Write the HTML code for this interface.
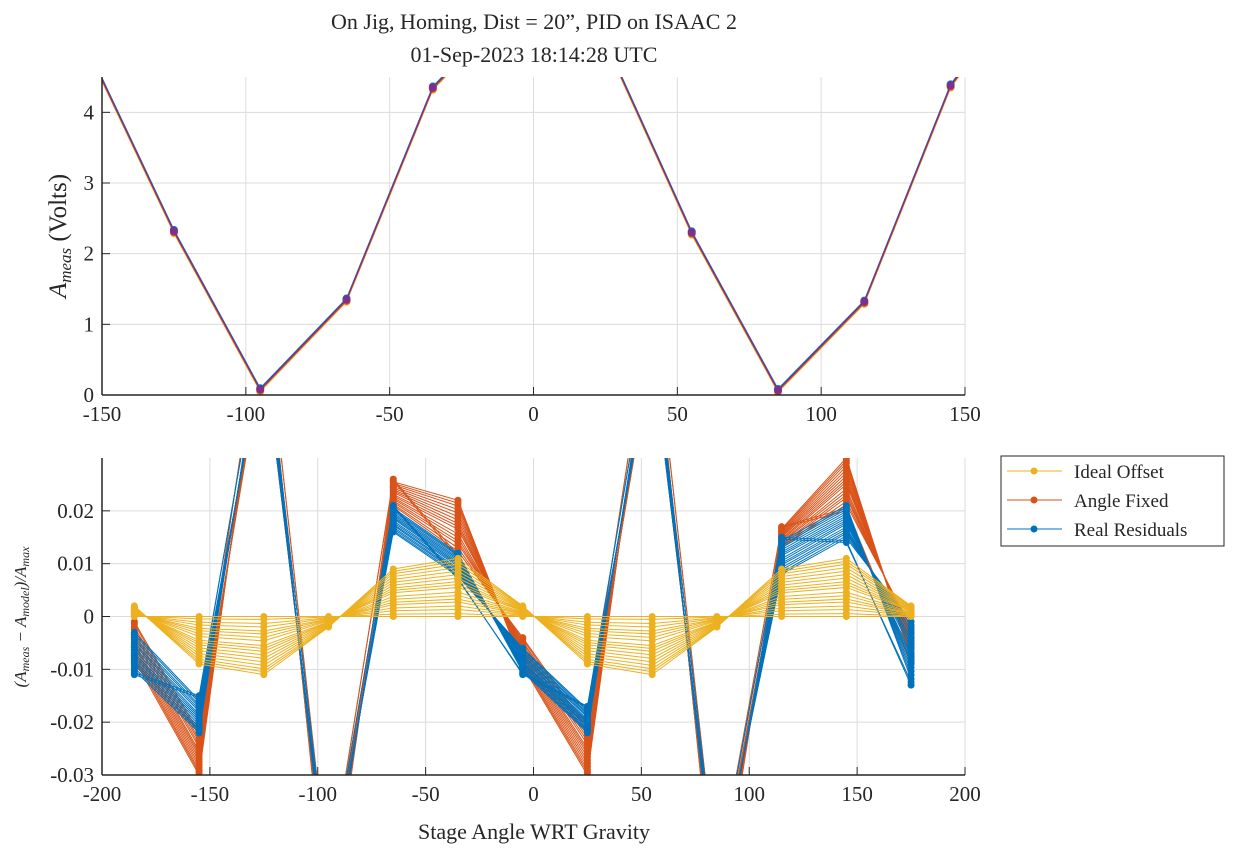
<!DOCTYPE html>
<html><head><meta charset="utf-8"><style>
html,body{margin:0;padding:0;background:#fff;overflow:hidden;width:1250px;height:859px;}
svg{display:block;}
svg text{font-family:"Liberation Serif",serif;fill:#262626;}
</style></head><body>
<svg width="1250" height="859" viewBox="0 0 1250 859" xmlns="http://www.w3.org/2000/svg">
<defs>
<clipPath id="c1"><rect x="102" y="77" width="863" height="318"/></clipPath>
<clipPath id="c2"><rect x="102" y="458" width="863" height="317"/></clipPath>
</defs>
<g id="topAx"></g>
<g id="botAx"></g>
<text x="534" y="29" font-size="22" text-anchor="middle">On Jig, Homing, Dist = 20”, PID on ISAAC 2</text>
<text x="534" y="62" font-size="22" text-anchor="middle">01-Sep-2023 18:14:28 UTC</text>
<text transform="translate(66,236) rotate(-90)" font-size="25" text-anchor="middle"><tspan font-style="italic">A</tspan><tspan font-style="italic" font-size="17" dy="5">meas</tspan><tspan dy="-5"> (Volts)</tspan></text>
<text transform="translate(26,617) rotate(-90)" font-size="17" text-anchor="middle" font-style="italic">(A<tspan font-size="12" dy="3">meas</tspan><tspan dy="-3"> − A</tspan><tspan font-size="12" dy="3">model</tspan><tspan dy="-3">)/A</tspan><tspan font-size="12" dy="3">max</tspan></text>
<text x="534" y="839" font-size="22" text-anchor="middle">Stage Angle WRT Gravity</text>
<g>
<rect x="1001" y="456" width="223" height="90" fill="#fff" stroke="#262626" stroke-width="1"/>
<g><line x1="1007" y1="471" x2="1062" y2="471" stroke="#EDB120" stroke-width="1"/><circle cx="1034" cy="471" r="3.5" fill="#EDB120"/><text x="1074" y="478" font-size="19">Ideal Offset</text></g>
<g><line x1="1007" y1="500" x2="1062" y2="500" stroke="#D95319" stroke-width="1"/><circle cx="1034" cy="500" r="3.5" fill="#D95319"/><text x="1074" y="507" font-size="19">Angle Fixed</text></g>
<g><line x1="1007" y1="529" x2="1062" y2="529" stroke="#0072BD" stroke-width="1"/><circle cx="1034" cy="529" r="3.5" fill="#0072BD"/><text x="1074" y="536" font-size="19">Real Residuals</text></g>
</g>
</svg>
<script>
// Top chart data
const topAngles=[-155,-125,-95,-65,-35,-5,25,55,85,115,145,175];
const topVolts=[4.9,2.32,0.08,1.35,4.35,5.6,5.0,2.3,0.07,1.32,4.38,6.0];
const topXTicks=[-150,-100,-50,0,50,100,150];
const topYTicks=[0,1,2,3,4];
// Bottom chart data
const angles=[-185,-155,-125,-95,-65,-35,-5,25,55,85,115,145,175];
const idealMin=[0,0,0,0,0,0,0,0,0,0,0,0,0];
const idealMax=[0.002,-0.009,-0.011,-0.002,0.009,0.011,0.002,-0.009,-0.011,-0.002,0.009,0.011,0.002];
const fixedMin=[-0.001,-0.021,0.05,-0.05,0.021,0.011,-0.004,-0.020,0.05,-0.05,0.013,0.020,-0.002];
const fixedMax=[-0.009,-0.030,0.06,-0.06,0.026,0.022,-0.010,-0.030,0.06,-0.06,0.017,0.030,-0.009];
const realMin=[-0.003,-0.015,0.05,-0.05,0.016,0.007,-0.006,-0.017,0.05,-0.05,0.008,0.014,-0.001];
const realMax=[-0.011,-0.022,0.055,-0.055,0.021,0.012,-0.011,-0.022,0.055,-0.055,0.015,0.021,-0.013];
const traceWeights=[0,0.05,0.12,0.18,0.25,0.3,0.36,0.42,0.5,0.55,0.6,0.66,0.72,0.78,0.84,0.9,0.95,1];
const botXTicks=[-200,-150,-100,-50,0,50,100,150,200];
const botYTicks=[-0.03,-0.02,-0.01,0,0.01,0.02];
const botYLabels=["-0.03","-0.02","-0.01","0","0.01","0.02"];

const NS="http://www.w3.org/2000/svg";
function mk(tag,at,parent){const e=document.createElementNS(NS,tag);for(const k in at)e.setAttribute(k,at[k]);parent.appendChild(e);return e;}
const L=102,R=965;
const tx=v=>L+(v+150)/300*(R-L), ty=v=>395-v*(318/4.5);
const bx=v=>L+(v+200)/400*(R-L), by=v=>775-(v+0.03)*(317/0.06);

function axes(g,xf,yf,xt,yt,ylab,ybot,ytop){
  xt.forEach(t=>{const l=mk('line',{x1:xf(t),x2:xf(t),y1:ytop,y2:ybot,stroke:'#dcdcdc','stroke-width':1},g);
    
    const tk=mk('line',{x1:xf(t),x2:xf(t),y1:ybot,y2:ybot-8,stroke:'#262626'},g);
    
    const tt=mk('text',{x:xf(t),y:ybot+26,'font-size':21,'text-anchor':'middle'},g);tt.textContent=t;
    });
  yt.forEach((t,i)=>{const l=mk('line',{x1:L,x2:R,y1:yf(t),y2:yf(t),stroke:'#dcdcdc'},g);
    
    const tk=mk('line',{x1:L,x2:L+8,y1:yf(t),y2:yf(t),stroke:'#262626'},g);
    
    const tt=mk('text',{x:L-8,y:yf(t)+7,'font-size':21,'text-anchor':'end'},g);tt.textContent=ylab[i];
    });
}
const topG=document.getElementById('topAx'), botG=document.getElementById('botAx');
axes(topG,tx,ty,topXTicks,topYTicks,topYTicks.map(String),395,77);
axes(botG,bx,by,botXTicks,botYTicks,botYLabels,775,458);

// top series
const tg=mk('g',{'clip-path':'url(#c1)'},topG);


[['#EDB120',-0.03],['#D95319',-0.015],['#0072BD',0.015],['#7E2F8E',0]].forEach(([c,off])=>{
  const pts=topAngles.map((a,i)=>tx(a)+','+ty(topVolts[i]+off)).join(' ');
  const p=mk('polyline',{points:pts,fill:'none',stroke:c,'stroke-width':1.2},tg);
  
  
  topAngles.forEach((a,i)=>{const d=mk('circle',{cx:tx(a),cy:ty(topVolts[i]+off),r:4,fill:c},tg);
    
    });
});

// bottom series
const bg=mk('g',{'clip-path':'url(#c2)'},botG);


[[fixedMin,fixedMax,'#D95319',2],[realMin,realMax,'#0072BD',2],[idealMin,idealMax,'#EDB120',0]].forEach(([mn,mx,c,shift])=>{
  traceWeights.forEach((w,j)=>{
    const vals=angles.map((a,i)=>{const ww=(i%2? traceWeights[(j+shift)%traceWeights.length]:w);return mn[i]+ww*(mx[i]-mn[i]);});
    const pts=angles.map((a,i)=>bx(a)+','+by(vals[i])).join(' ');
    const p=mk('polyline',{points:pts,fill:'none',stroke:c,'stroke-width':1},bg);
    
    
    angles.forEach((a,i)=>{const d=mk('circle',{cx:bx(a),cy:by(vals[i]),r:3.5,fill:c},bg);
      
      });
  });
});

// axis lines
[[topG,395,77],[botG,775,458]].forEach(([g,yb,yt])=>{
  const a=mk('line',{x1:L,x2:R,y1:yb,y2:yb,stroke:'#262626','stroke-width':1.5},g);
  
  
  const b=mk('line',{x1:L,x2:L,y1:yb,y2:yt,stroke:'#262626','stroke-width':1.5},g);
  
  
});
</script>
</body></html>
